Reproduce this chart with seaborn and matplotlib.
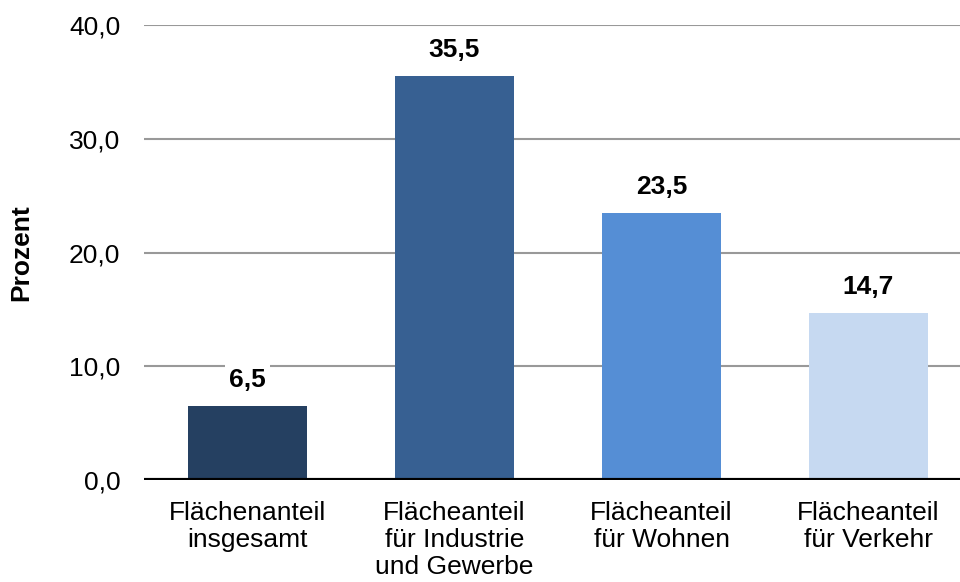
import matplotlib
matplotlib.use("Agg")
import matplotlib.pyplot as plt
import seaborn as sns
import pandas as pd

categories = ["Flächenanteil\ninsgesamt", "Flächeanteil\nfür Industrie\nund Gewerbe",
              "Flächeanteil\nfür Wohnen", "Flächeanteil\nfür Verkehr"]
values = [6.5, 35.5, 23.5, 14.7]
colors = ["#254061", "#376092", "#558ED5", "#C6D9F1"]
yticks = [0, 10, 20, 30, 40]
ytick_labels = ["0,0", "10,0", "20,0", "30,0", "40,0"]

sns.set_theme(style="white")
plt.rcParams['font.family'] = ['Liberation Sans', 'DejaVu Sans']
plt.rcParams['text.color'] = 'black'
plt.rcParams['axes.labelcolor'] = 'black'
plt.rcParams['xtick.color'] = 'black'
plt.rcParams['ytick.color'] = 'black'

df = pd.DataFrame({"cat": categories, "val": values})

fig = plt.figure(figsize=(9.6, 5.82), dpi=100)
ax = fig.add_axes([0.15, 0.1753, 0.85, 0.7817])

sns.barplot(data=df, x="cat", y="val", hue="cat", palette=colors, legend=False,
            width=0.575, saturation=1, ax=ax, zorder=3, edgecolor="none")

ax.set_ylim(0, 40)
ax.set_xlim(-0.5, (960 - 144) / 207 - 0.5)
ax.set_yticks(yticks)
ax.set_yticklabels(ytick_labels, fontsize=19, color="black")
ax.tick_params(axis='y', length=0, pad=17)
ax.tick_params(axis='x', length=0, pad=15, labelsize=19, labelcolor="black")
for lbl in ax.get_xticklabels():
    lbl.set_linespacing(1.15)

for y in yticks[1:]:
    ax.axhline(y, color="#999999", lw=1.5, zorder=1)
ax.axhline(0, color="black", lw=3, zorder=4)

for s in ax.spines.values():
    s.set_visible(False)

ax.set_xlabel("")
ax.set_ylabel("Prozent", fontsize=19, fontweight="bold", labelpad=26, color="black")

for i, v in enumerate(values):
    ax.annotate(f"{v:.1f}".replace(".", ","), xy=(i, v), xytext=(0, 10),
                textcoords="offset points", ha="center", va="bottom",
                fontsize=19, fontweight="bold", zorder=5, color="black",
                bbox=dict(boxstyle="square,pad=0.15", fc="white", ec="none"))

fig.savefig("out.png", dpi=100)
